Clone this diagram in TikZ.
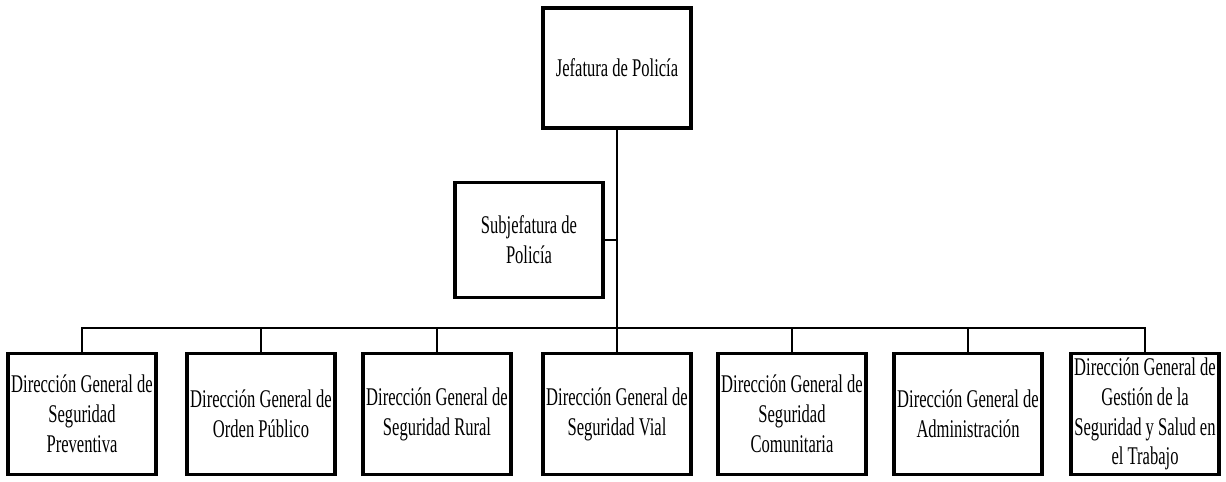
\documentclass[tikz,border=0pt]{standalone}
\usepackage{fontspec}
\setmainfont[FakeStretch=0.65]{Liberation Serif}
\usetikzlibrary{positioning}

\begin{document}
\begin{tikzpicture}[x=0.02cm,y=-0.02cm,box/.style={draw,line width=1.8pt,minimum width=2.96cm,minimum height=2.42cm,align=center,inner sep=1pt,font=\fontsize{14.5}{17}\selectfont},ln/.style={line width=1.6pt}]
\useasboundingbox (0,0) rectangle (1226,481);
\node[box,minimum height=2.4cm] (jef) at (617,68) {Jefatura de Policía};
\node[box,minimum height=2.3cm] (sub) at (529,240) {Subjefatura de\\Policía};
\node[box] (d1) at (82,414) {Dirección General de\\Seguridad\\Preventiva};
\node[box] (d2) at (261,414) {Dirección General de\\Orden Público};
\node[box] (d3) at (437,414) {Dirección General de\\Seguridad Rural};
\node[box] (d4) at (617,414) {Dirección General de\\Seguridad Vial};
\node[box] (d5) at (792,414) {Dirección General de\\Seguridad\\Comunitaria};
\node[box] (d6) at (968,414) {Dirección General de\\Administración};
\node[box] (d7) at (1145,414) {Dirección General de\\Gestión de la\\Seguridad y Salud en\\el Trabajo};
\coordinate (bus) at (617,328);
\draw[ln](jef.south)--(jef.south|-bus);\draw[ln](sub.east)--(sub.east-|jef.south);
\draw[ln](d1.north)--(d1.north|-bus)-|(d7.north);
\draw[ln](d2.north)--(d2.north|-bus);\draw[ln](d3.north)--(d3.north|-bus);
\draw[ln](d4.north)--(d4.north|-bus);\draw[ln](d5.north)--(d5.north|-bus);
\draw[ln](d6.north)--(d6.north|-bus);
\end{tikzpicture}
\end{document}
